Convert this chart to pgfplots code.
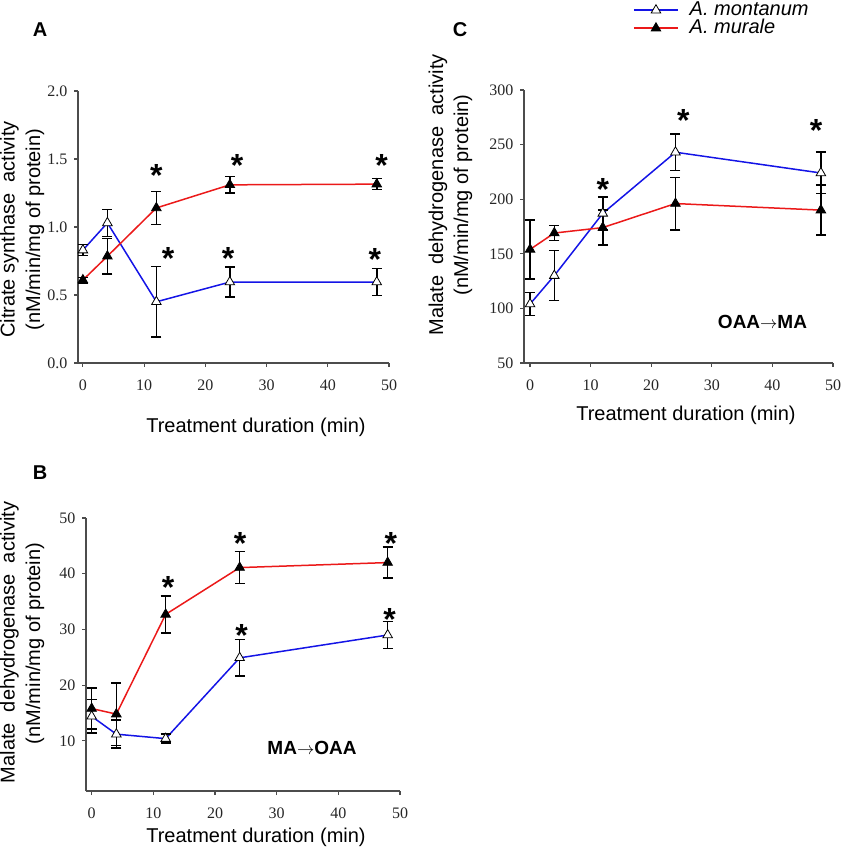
\documentclass[border=0pt]{standalone}
\usepackage{pgfplots}
\pgfplotsset{compat=1.18}
\usepackage{fontspec}
\setmainfont{Liberation Serif}
\setsansfont{Liberation Sans}

\definecolor{myblue}{RGB}{20,20,230}
\definecolor{myred}{RGB}{235,25,25}

\pgfplotsset{
  panel/.style={scale only axis, axis x line*=bottom, axis y line*=left,
    axis line style={black!70, line width=1.2pt},
    tick style={black!70, line width=1.2pt}, tick align=outside, major tick length=4pt,
    /pgf/number format/assume math mode=true,
    ticklabel style={font=\fontsize{16}{16}\selectfont, text=black!85},
    xticklabel style={yshift=-9pt}, yticklabel style={xshift=-3pt},
    clip=false, xmax=50, xtick={0,10,...,50}},
  mont/.style={myblue, line width=1.5pt, mark=triangle*, mark size=5.5pt,
    mark options={fill=white, draw=black, line width=0.8pt},
    error bars/.cd, y dir=both, y explicit, error mark=|,
    error bar style={black, line width=1.5pt},
    error mark options={black, line width=1.5pt, mark size=5pt}},
  mur/.style={myred, line width=1.5pt, mark=triangle*, mark size=5.5pt,
    mark options={fill=black, draw=black, line width=0.8pt},
    error bars/.cd, y dir=both, y explicit, error mark=|,
    error bar style={black, line width=1.5pt},
    error mark options={black, line width=1.5pt, mark size=5pt}},
  stars/.style={draw=none, mark=none, nodes near coords={*},
    every node near coord/.style={anchor=center, inner sep=0pt,
      font=\sffamily\bfseries\fontsize{32}{32}\selectfont, text=black, yshift=-7pt}},
}

\begin{document}
\begin{tikzpicture}[x=1pt,y=1pt]
% ---------- Panel A ----------
\begin{axis}[panel, at={(78pt,487pt)}, anchor=south west, width=311pt, height=272pt,
  xmin=-0.8, ymin=0, ymax=2, ytick={0,0.5,...,2},
  yticklabel style={/pgf/number format/.cd, fixed, fixed zerofill, precision=1}]
\addplot[mont] coordinates {(0,0.83) +- (0,0.04) (4,1.03) +- (0,0.10) (12,0.45) +- (0,0.26) (24,0.595) +- (0,0.11) (48,0.595) +- (0,0.10)};
\addplot[mur] coordinates {(0,0.61) +- (0,0.02) (4,0.785) +- (0,0.13) (12,1.14) +- (0,0.12) (24,1.31) +- (0,0.06) (48,1.315) +- (0,0.04)};
\addplot[stars] coordinates {(12,1.43) (25.2,1.50) (48.8,1.505) (13.9,0.82) (23.7,0.82) (47.7,0.81)};
\end{axis}
% ---------- Panel C ----------
\begin{axis}[panel, at={(524pt,487pt)}, anchor=south west, width=309pt, height=273pt,
  xmin=-1, ymin=50, ymax=300, ytick={50,100,...,300},
  legend style={at={(axis description cs:0.3528,1.326)}, anchor=north west, draw=none, fill=none,
    inner sep=0pt, row sep=0pt, column sep=11pt,
    nodes={inner sep=0pt, text height=14pt, text depth=4pt},
    font=\sffamily\itshape\fontsize{20}{20}\selectfont},
  legend cell align=left,
  legend image code/.code={\draw[mark repeat=2,mark phase=2] plot coordinates {(0pt,0pt) (22pt,0pt) (44pt,0pt)};}]
\addplot[mont] coordinates {(0,104) +- (0,10.5) (4,130) +- (0,23) (12,187) +- (0,15) (24,243) +- (0,16.5) (48,224) +- (0,19)};
\addlegendentry{A. montanum}
\addplot[mur] coordinates {(0,154) +- (0,27) (4,169) +- (0,7) (12,174) +- (0,16) (24,196) +- (0,24) (48,190) +- (0,23)};
\addlegendentry{A. murale}
\addplot[stars] coordinates {(12,215) (25.3,278.7) (47.2,268.9)};
\end{axis}
% ---------- Panel B ----------
\begin{axis}[panel, at={(86pt,59pt)}, anchor=south west, width=314pt, height=273pt,
  xmin=-0.92, ymin=1, ymax=50, ytick={10,20,...,50}]
\addplot[mont] coordinates {(0,14.4) +- (0,3) (4,11.2) +- (0,2.5) (12,10.4) +- (0,0.8) (24,24.9) +- (0,3.3) (48,29) +- (0,2.4)};
\addplot[mur] coordinates {(0,15.8) +- (0,3.7) (4,14.8) +- (0,5.6) (12,32.7) +- (0,3.3) (24,41.1) +- (0,2.9) (48,42) +- (0,2.8)};
\addplot[stars] coordinates {(12.4,38.7) (24.05,46.7) (48.5,46.7) (24.3,30.2) (48.3,33.1)};
\end{axis}
% ---------- Text ----------
\begin{scope}[every node/.style={font=\sffamily\fontsize{20}{20}\selectfont, inner sep=0pt}]
\node[font=\sffamily\bfseries\fontsize{20}{20}\selectfont] at (40pt,820pt) {A};
\node[font=\sffamily\bfseries\fontsize{20}{20}\selectfont] at (460pt,820pt) {C};
\node[font=\sffamily\bfseries\fontsize{20}{20}\selectfont] at (40pt,377pt) {B};
\node at (256pt,423pt) {Treatment duration (min)};
\node at (686pt,435pt) {Treatment duration (min)};
\node at (256pt,13pt) {Treatment duration (min)};
\node[rotate=90] at (9.5pt,620.5pt) {Citrate synthase~ activity};
\node[rotate=90] at (35pt,620.5pt) {(nM/min/mg of protein)};
\node[rotate=90] at (438pt,655pt) {Malate~ dehydrogenase~ activity};
\node[rotate=90] at (463pt,655pt) {(nM/min/mg of protein)};
\node[rotate=90] at (9.5pt,207.5pt) {Malate~ dehydrogenase~ activity};
\node[rotate=90] at (35pt,206.5pt) {(nM/min/mg of protein)};
\node[font=\sffamily\bfseries\fontsize{19}{19}\selectfont] at (762.5pt,528.3pt) {OAA$\rightarrow$MA};
\node[font=\sffamily\bfseries\fontsize{19}{19}\selectfont] at (312pt,102pt) {MA$\rightarrow$OAA};
\end{scope}
\pgfresetboundingbox
\path[use as bounding box] (0pt,0pt) rectangle (840pt,850pt);
\end{tikzpicture}
\end{document}
